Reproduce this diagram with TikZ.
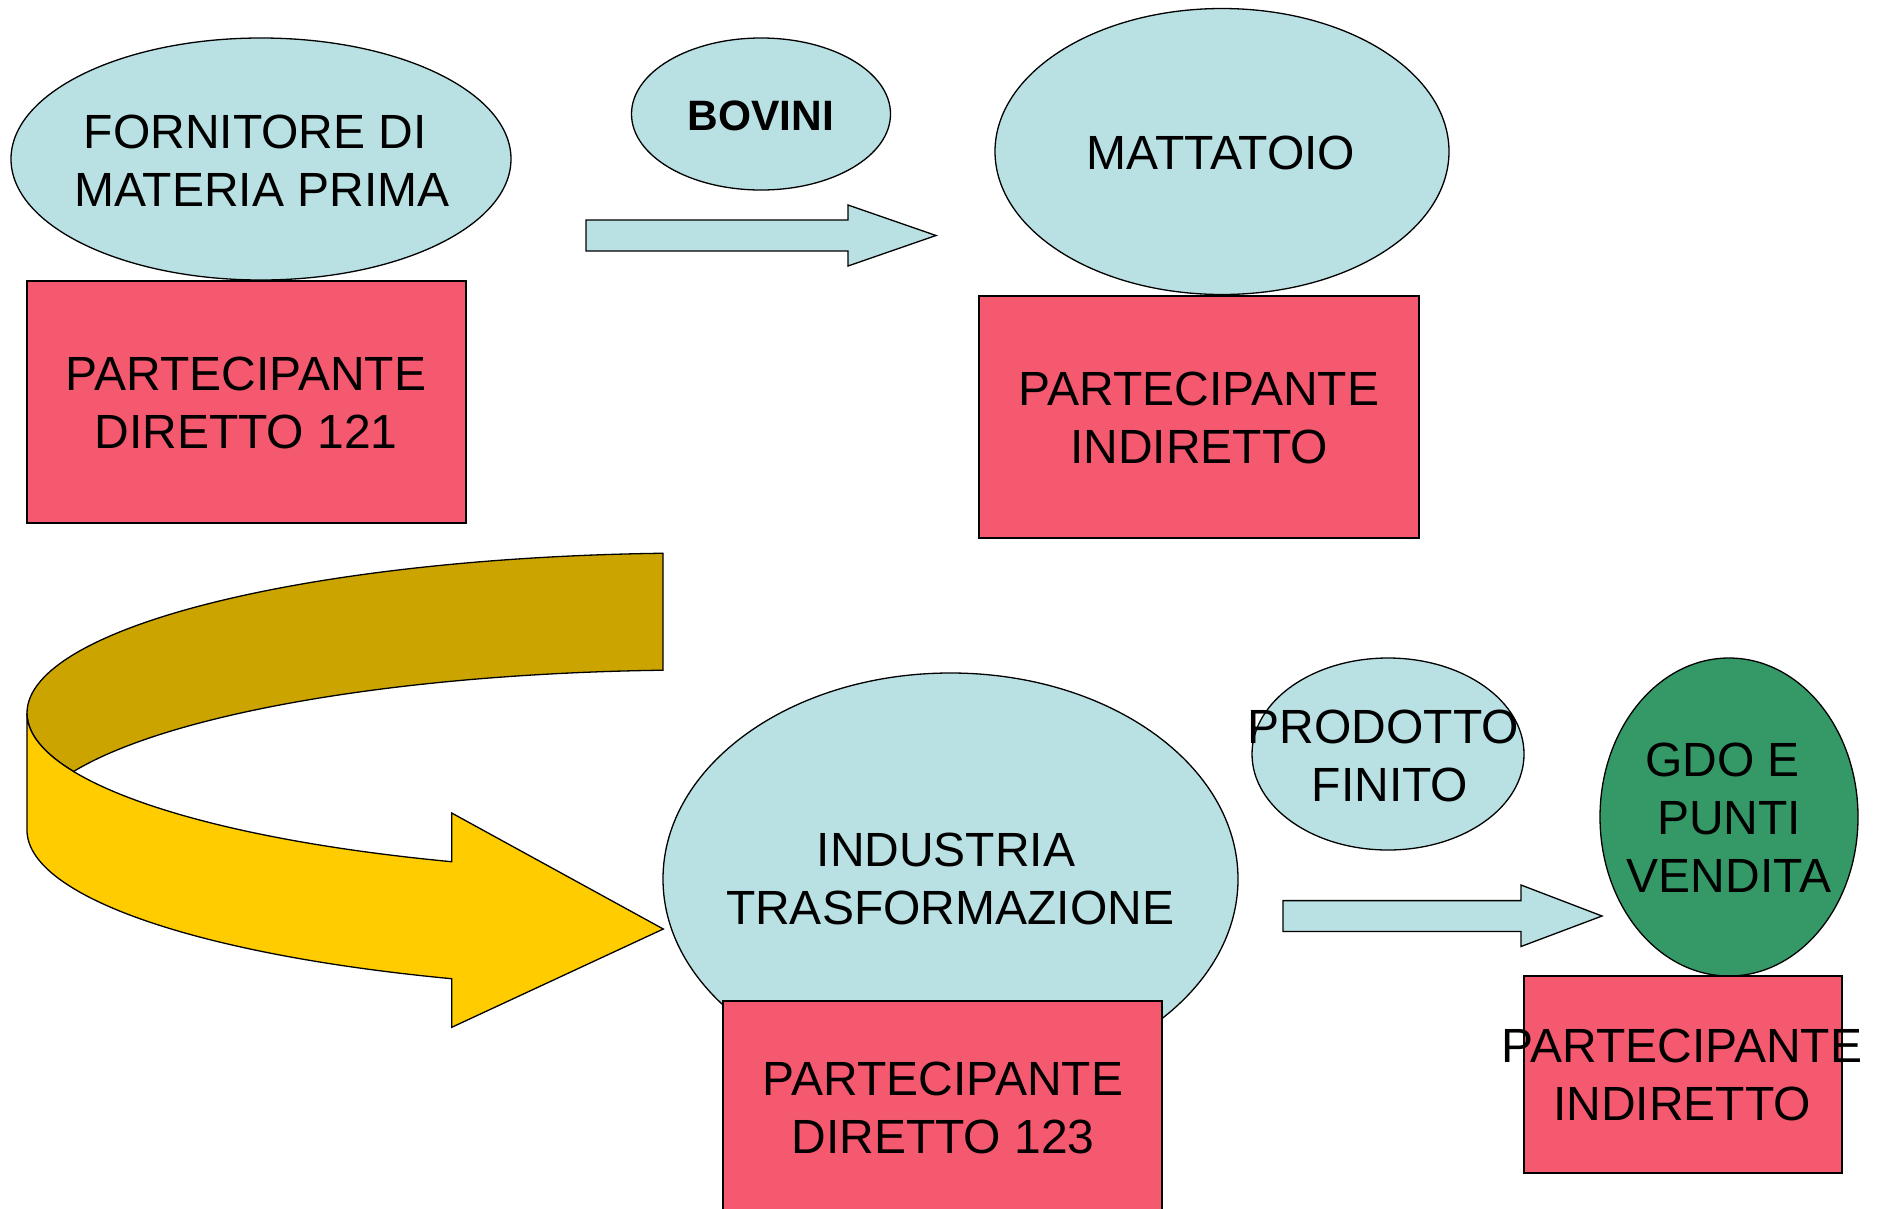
\documentclass[tikz,border=0pt]{standalone}
\usepackage{fontspec}
\setmainfont{Liberation Sans}
\usetikzlibrary{shapes.geometric}
\definecolor{lblue}{RGB}{185,224,227}
\definecolor{pinkred}{RGB}{245,89,111}
\definecolor{gdogreen}{RGB}{52,153,102}
\definecolor{darkgold}{RGB}{204,164,0}
\definecolor{goldyellow}{RGB}{255,204,0}
\newcommand{\tsp}{\hspace*{0.278em}}
\begin{document}
\begin{tikzpicture}[x=1pt,y=1pt,
  outline/.style={draw=black, line width=1.3pt, line join=miter},
  blueell/.style={ellipse, outline, fill=lblue, inner sep=0pt},
  greenell/.style={ellipse, outline, fill=gdogreen, inner sep=0pt},
  pinkbox/.style={rectangle, outline, fill=pinkred, inner sep=0pt},
  lbl/.style={align=center, inner sep=0pt, font=\fontsize{48}{58}\selectfont},
  boldlbl/.style={align=center, inner sep=0pt, font=\bfseries\fontsize{42.5}{50}\selectfont},
  blockarrow/.style={outline, fill=lblue}
]
\useasboundingbox (0,0) rectangle (1878,-1208);

% top row shapes
\node[blueell, minimum width=500pt, minimum height=242pt] (forn) at (261,-159) {};
\node[pinkbox, minimum width=439pt, minimum height=242pt] (pd1) at (246.5,-402) {};
\node[blueell, minimum width=259pt, minimum height=152pt] (bov) at (761,-114) {};
\node[blueell, minimum width=454pt, minimum height=286pt] (matt) at (1222,-151.5) {};
\node[pinkbox, minimum width=440pt, minimum height=242pt] (pi1) at (1199,-417) {};

% arrow 1
\draw[blockarrow] (586,-220) -- (848,-220) -- (848,-205) -- (936,-235.5)
  -- (848,-266) -- (848,-251) -- (586,-251) -- cycle;

% curved 3D arrow
\draw[outline, fill=darkgold] (663,-553.24)
  arc[start angle=93.15, end angle=201.44, x radius=673, y radius=160]
  arc[start angle=158.56, end angle=93.15, x radius=673, y radius=160]
  -- cycle;
\draw[outline, fill=goldyellow] (27,-713)
  arc[start angle=180, end angle=248.35, x radius=673, y radius=160]
  -- (451.7,-813) -- (663.3,-929) -- (451.7,-1027.3) -- (451.7,-978.7)
  arc[start angle=248.35, end angle=180, x radius=673, y radius=160]
  -- cycle;

% bottom row shapes
\node[blueell, minimum width=575pt, minimum height=412pt] (ind) at (950.5,-879) {};
\node[pinkbox, minimum width=439pt, minimum height=242pt] (pd2) at (942.5,-1122) {};
\node[blueell, minimum width=272pt, minimum height=192pt] (prod) at (1388,-754) {};
\node[greenell, minimum width=258pt, minimum height=318pt] (gdo) at (1729,-817) {};
\node[pinkbox, minimum width=318pt, minimum height=197pt] (pi2) at (1683,-1074.5) {};

% arrow 2
\draw[blockarrow] (1283,-900.6) -- (1521,-900.6) -- (1521,-885) -- (1602,-916)
  -- (1521,-946.5) -- (1521,-931.4) -- (1283,-931.4) -- cycle;

% labels
\node[lbl] (fornt) at (262,-160.3) {FORNITORE DI\tsp\\MATERIA PRIMA};
\node[lbl] (pd1t) at (246,-402.5) {PARTECIPANTE\\DIRETTO 121};
\node[boldlbl] (bovt) at (761,-115.5) {BOVINI};
\node[lbl] (mattt) at (1221,-152.5) {MATTATOIO};
\node[lbl] (pi1t) at (1199,-418) {PARTECIPANTE\\INDIRETTO};
\node[lbl] (indt) at (950,-879) {INDUSTRIA\hspace*{8pt}\\TRASFORMAZIONE};
\node[lbl] (pd2t) at (943,-1107.5) {PARTECIPANTE\\DIRETTO 123};
\node[lbl] (prodt) at (1390,-755.7) {PRODOTTO\tsp\\FINITO};
\node[lbl] (gdot) at (1729,-818) {GDO E\tsp\\PUNTI\tsp\\VENDITA};
\node[lbl] (pi2t) at (1682,-1074.5) {PARTECIPANTE\\INDIRETTO};
\end{tikzpicture}
\end{document}
